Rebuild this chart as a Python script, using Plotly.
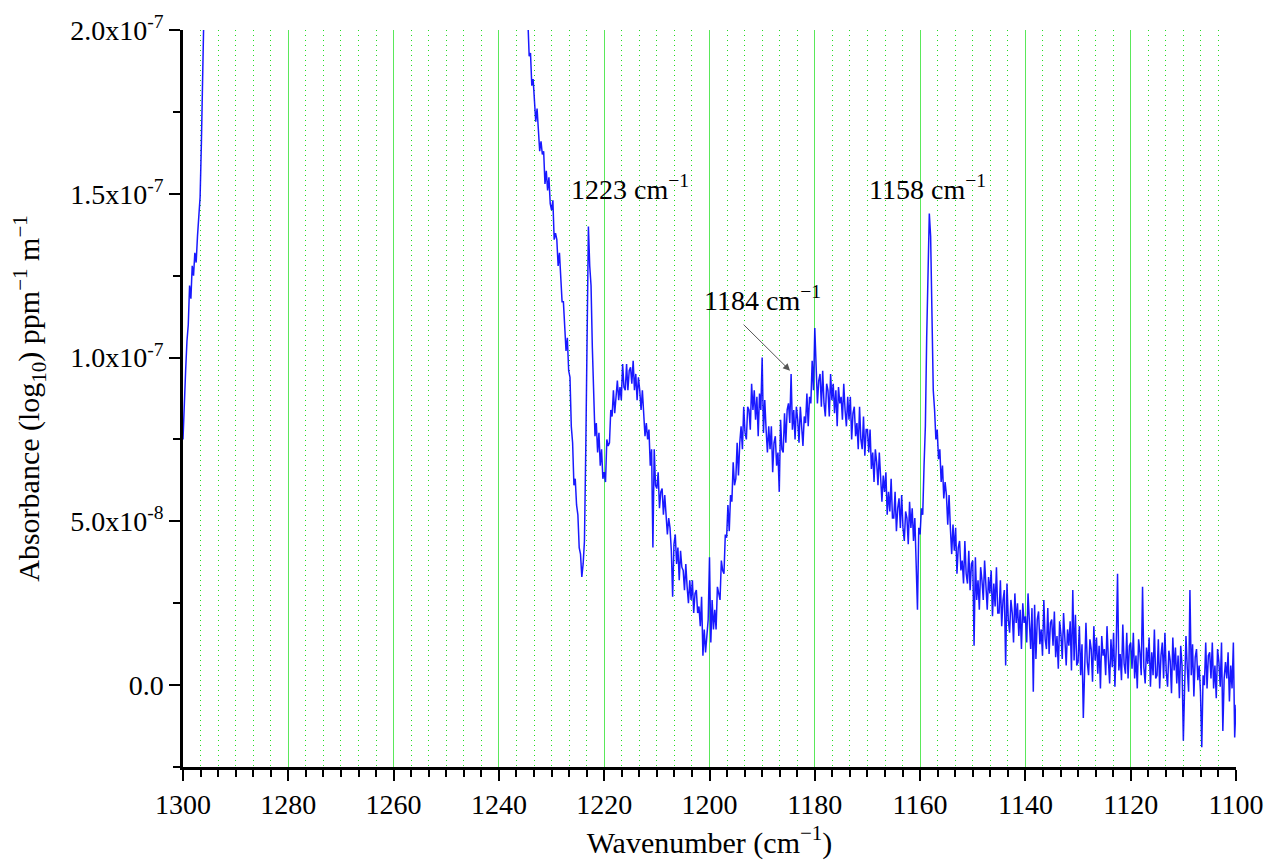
import plotly.graph_objects as go

# ---------------- data (absorbance in units of 1e-8 ppm^-1 m^-1) ----------------
STEP = 0.25              # cm^-1 sampling of the hand-read values
SCALE = 1e-8

left_start = 1300.0      # short rising branch at the high-wavenumber edge
left_vals = [7.5, 8.8, 9.6, 10.5, 11.0, 12.2, 11.8, 12.8, 12.5, 13.2, 12.9, 13.7,
             14.3, 14.9, 16.6, 18.2, 20.0, 22.5, 25.0]

right_start = 1235.0     # main branch, 1235 -> 1100 cm^-1
right_vals = [
    21.3, 20.4, 20.3, 19.2, 19.3, 18.3, 18.5, 17.9, 17.2, 17.6, 16.7, 16.3, 16.6, 16.2, 16.3, 15.3, 15.7, 15.1, 15.5, 14.7,
    14.5, 14.8, 13.6, 13.8, 13.6, 12.8, 13.2, 12.2, 11.7, 11.7, 11.1, 10.2, 10.6, 9.6, 9.4, 7.9, 7.4, 6.1, 6.3, 5.5,
    5.2, 4.2, 4.0, 3.3, 3.7, 4.4, 7.2, 11.0, 14.0, 12.8, 12.2, 10.3, 8.7, 7.6, 8.0, 7.1, 7.7, 6.7, 7.2, 6.3,
    6.5, 6.2, 7.5, 7.3, 7.4, 8.4, 8.2, 9.0, 8.3, 9.0, 9.3, 8.7, 9.1, 8.7, 9.8, 9.1, 9.0, 9.8, 9.0, 9.6,
    9.7, 9.2, 9.9, 9.0, 9.5, 8.7, 9.4, 9.0, 8.4, 9.0, 8.1, 7.6, 8.0, 7.5, 7.8, 6.7, 7.2, 4.2, 7.2, 6.1,
    6.0, 6.5, 5.4, 5.9, 6.0, 5.2, 5.8, 5.0, 4.6, 5.1, 4.8, 4.1, 2.7, 4.3, 4.6, 3.7, 4.2, 3.2, 4.1, 3.6,
    3.5, 2.9, 3.7, 3.0, 2.5, 3.2, 2.6, 3.2, 2.2, 2.8, 2.9, 2.2, 2.4, 1.8, 2.7, 0.9, 1.7, 1.0, 1.5, 2.0,
    3.9, 1.3, 2.6, 1.7, 2.3, 1.7, 3.0, 2.8, 2.6, 3.8, 3.5, 3.4, 4.6, 4.5, 5.5, 4.7, 5.8, 5.6, 6.8, 6.1,
    6.3, 7.4, 6.4, 7.4, 7.9, 7.2, 8.5, 7.7, 7.5, 8.5, 8.4, 7.8, 9.2, 8.4, 9.0, 8.1, 8.8, 7.6, 8.9, 8.4,
    10.0, 7.7, 8.7, 7.8, 7.1, 7.9, 7.2, 7.9, 6.5, 7.4, 7.6, 6.7, 7.1, 5.9, 8.1, 7.2, 7.1, 8.3, 7.4, 8.4,
    8.6, 8.0, 9.5, 7.8, 8.4, 7.5, 8.5, 8.1, 7.4, 8.5, 7.7, 7.3, 8.2, 8.0, 8.9, 7.9, 8.8, 8.6, 9.9, 9.0,
    10.9, 10.0, 8.6, 9.3, 9.5, 8.5, 9.6, 8.6, 8.2, 9.2, 9.0, 8.2, 9.5, 8.7, 9.2, 8.3, 9.0, 7.9, 9.1, 8.6,
    8.8, 8.1, 9.2, 8.4, 7.9, 8.8, 8.1, 8.8, 7.5, 8.3, 8.5, 7.6, 8.0, 7.2, 8.5, 7.5, 7.2, 8.2, 7.0, 7.8,
    7.8, 7.1, 7.8, 6.6, 7.1, 6.2, 7.2, 6.8, 6.1, 7.1, 6.1, 5.6, 6.4, 5.9, 6.5, 5.2, 5.9, 5.3, 6.3, 5.1,
    5.1, 5.9, 4.7, 5.4, 5.7, 4.8, 5.8, 4.8, 4.4, 5.3, 5.1, 4.3, 5.6, 4.8, 5.4, 4.4, 5.1, 4.0, 2.3, 4.8,
    4.6, 5.4, 5.2, 6.7, 7.9, 10.6, 12.9, 14.4, 13.7, 11.6, 9.0, 8.4, 7.5, 7.8, 6.9, 7.2, 6.2, 6.7, 5.7, 6.2,
    5.8, 4.9, 5.8, 4.8, 4.0, 4.9, 4.1, 4.8, 3.4, 4.2, 4.4, 3.5, 3.8, 3.1, 4.4, 3.4, 3.1, 4.1, 2.9, 3.7,
    3.8, 1.2, 3.9, 2.6, 3.2, 2.3, 3.6, 3.2, 2.6, 3.8, 2.8, 2.3, 3.3, 2.8, 3.5, 2.1, 3.1, 2.4, 3.6, 2.2,
    2.2, 3.2, 1.8, 2.6, 2.9, 0.6, 3.1, 2.0, 1.6, 2.6, 2.2, 1.3, 2.8, 1.9, 2.5, 1.5, 2.3, 1.1, 2.5, 1.9,
    2.1, 1.3, 2.8, 1.8, 1.1, 2.35, -0.2, 2.45, 0.8, 2.0, 2.25, 1.25, 1.7, 0.9, 2.6, 1.4, 1.1, 2.35, 0.95, 1.9,
    2.0, 1.2, 2.25, 0.85, 1.5, 0.5, 1.95, 1.55, 0.8, 2.2, 1.1, 0.6, 1.7, 1.2, 1.95, 0.45, 2.9, 0.75, 2.15, 0.6,
    0.7, 1.8, 0.3, 1.25, -1.0, 0.5, 1.9, 0.7, 0.3, 1.4, 1.1, 0.1, 1.8, 0.75, 1.45, 0.35, 1.2, -0.1, 1.5, 0.9,
    1.1, 0.3, 1.8, 0.8, 0.05, 1.4, 0.55, 1.6, -0.05, 1.15, 3.4, 0.45, 0.95, 0.15, 1.85, 0.65, 0.35, 1.6, 0.2, 1.2,
    1.3, 0.5, 1.6, 0.2, 0.9, -0.1, 1.4, 1.0, 0.3, 3.0, 0.55, 0.05, 1.15, 0.65, 1.45, -0.05, 1.0, 0.3, 1.7, 0.2,
    0.3, 1.4, -0.1, 0.9, 1.3, 0.2, 1.6, 0.4, -0.05, 1.05, 0.75, -0.25, 1.45, 0.45, 1.15, 0.05, 0.9, -0.4, 1.2, 0.6,
    -1.7, 0.0, 1.5, 0.5, -0.2, 2.9, 0.3, 1.25, -0.35, 0.85, 1.1, 0.15, 0.6, -0.2, -1.9, 0.3, 0.0, 1.3, -0.1, 0.9,
    1.0, 0.2, 1.3, -0.1, 0.6, -0.4, 1.1, 0.7, -0.05, 1.3, -1.4, 0.2, 0.7, 0.2, 1.0, -0.5, 0.6, -0.1, 1.3, -1.6, -0.6,
]

x_tickvals = [1300, 1280, 1260, 1240, 1220, 1200, 1180, 1160, 1140, 1120, 1100]
y_tickvals = [0.0, 5e-8, 1e-7, 1.5e-7, 2e-7]
y_ticktext = ["0.0", "5.0x10<sup>-8</sup>", "1.0x10<sup>-7</sup>",
              "1.5x10<sup>-7</sup>", "2.0x10<sup>-7</sup>"]

peak_labels = ["1223 cm<sup>\u22121</sup>", "1184 cm<sup>\u22121</sup>", "1158 cm<sup>\u22121</sup>"]

# ---------------- build series ----------------
xs = [left_start - STEP * i for i in range(len(left_vals))] + \
     [right_start - STEP * i for i in range(len(right_vals))]
ys = [v * SCALE for v in left_vals + right_vals]

# minor ticks: five between each pair of major ticks (Origin style)
x_minor = []
for a, b in zip(x_tickvals[:-1], x_tickvals[1:]):
    for k in range(1, 6):
        x_minor.append(round(a + (b - a) * k / 6, 6))
y_minor = [round(v * 1e-9, 12) for v in (-25, 25, 75, 125, 175)]

FONT = "Liberation Serif"
GRID_MAJOR = "#5ae85a"
GRID_MINOR = "#22dd22"
TICK_SIZE = 28
TITLE_SIZE = 30

fig = go.Figure()
fig.add_trace(go.Scatter(x=xs, y=ys, mode="lines",
                         line=dict(color="rgba(0,0,255,0.9)", width=1.5),
                         showlegend=False, hoverinfo="skip"))

fig.update_layout(
    width=1268, height=864,
    margin=dict(l=183, r=32, t=30, b=97),
    paper_bgcolor="white", plot_bgcolor="white",
    font=dict(family=FONT, size=TICK_SIZE, color="black"),
    showlegend=False,
)

fig.update_xaxes(
    range=[1300, 1100], automargin=False,
    tickmode="array", tickvals=x_tickvals,
    ticks="outside", ticklen=11, tickwidth=2, tickcolor="black",
    showline=True, linewidth=2.5, linecolor="black", mirror=False,
    showgrid=True, gridcolor=GRID_MAJOR, gridwidth=1,
    zeroline=False,
    minor=dict(tickmode="array", tickvals=x_minor, ticks="outside", ticklen=7, tickwidth=2,
               tickcolor="black", showgrid=True, gridcolor=GRID_MINOR,
               griddash="1px,4px", gridwidth=1),
    tickfont=dict(family=FONT, size=TICK_SIZE, color="black"),
    title=dict(text="Wavenumber (cm<sup>\u22121</sup>)",
               font=dict(family=FONT, size=TITLE_SIZE, color="black"), standoff=13),
)

fig.update_yaxes(
    range=[-2.5e-8, 2.0e-7], automargin=False,
    tickmode="array", tickvals=y_tickvals, ticktext=y_ticktext,
    ticks="outside", ticklen=11, tickwidth=2, tickcolor="black",
    showline=True, linewidth=2.5, linecolor="black", mirror=False,
    showgrid=False, zeroline=False,
    minor=dict(tickmode="array", tickvals=y_minor, ticks="outside", ticklen=7, tickwidth=2,
               tickcolor="black", showgrid=False),
    tickfont=dict(family=FONT, size=TICK_SIZE, color="black"),
    title=dict(text="Absorbance (log<sub>10</sub>) ppm<sup>\u22121</sup> m<sup>\u22121</sup>",
               font=dict(family=FONT, size=TITLE_SIZE, color="black"), standoff=22),
)

label_pos = [(1215.1, 15.2e-8), (1190.0, 11.8e-8), (1158.6, 15.2e-8)]
for (lx, ly), txt in zip(label_pos, peak_labels):
    fig.add_annotation(x=lx, y=ly, xref="x", yref="y", text=txt, showarrow=False,
                       font=dict(family=FONT, size=TICK_SIZE, color="black"))

fig.add_annotation(x=1184.7, y=9.6e-8, xref="x", yref="y",
                   ax=1193.8, ay=11.05e-8, axref="x", ayref="y",
                   text="", showarrow=True, arrowhead=2, arrowsize=1.4,
                   arrowwidth=1, arrowcolor="#555555")

fig.write_html("out.html", config={"displayModeBar": False},
               post_script="document.body.style.margin='0';document.body.style.overflow='hidden';")
